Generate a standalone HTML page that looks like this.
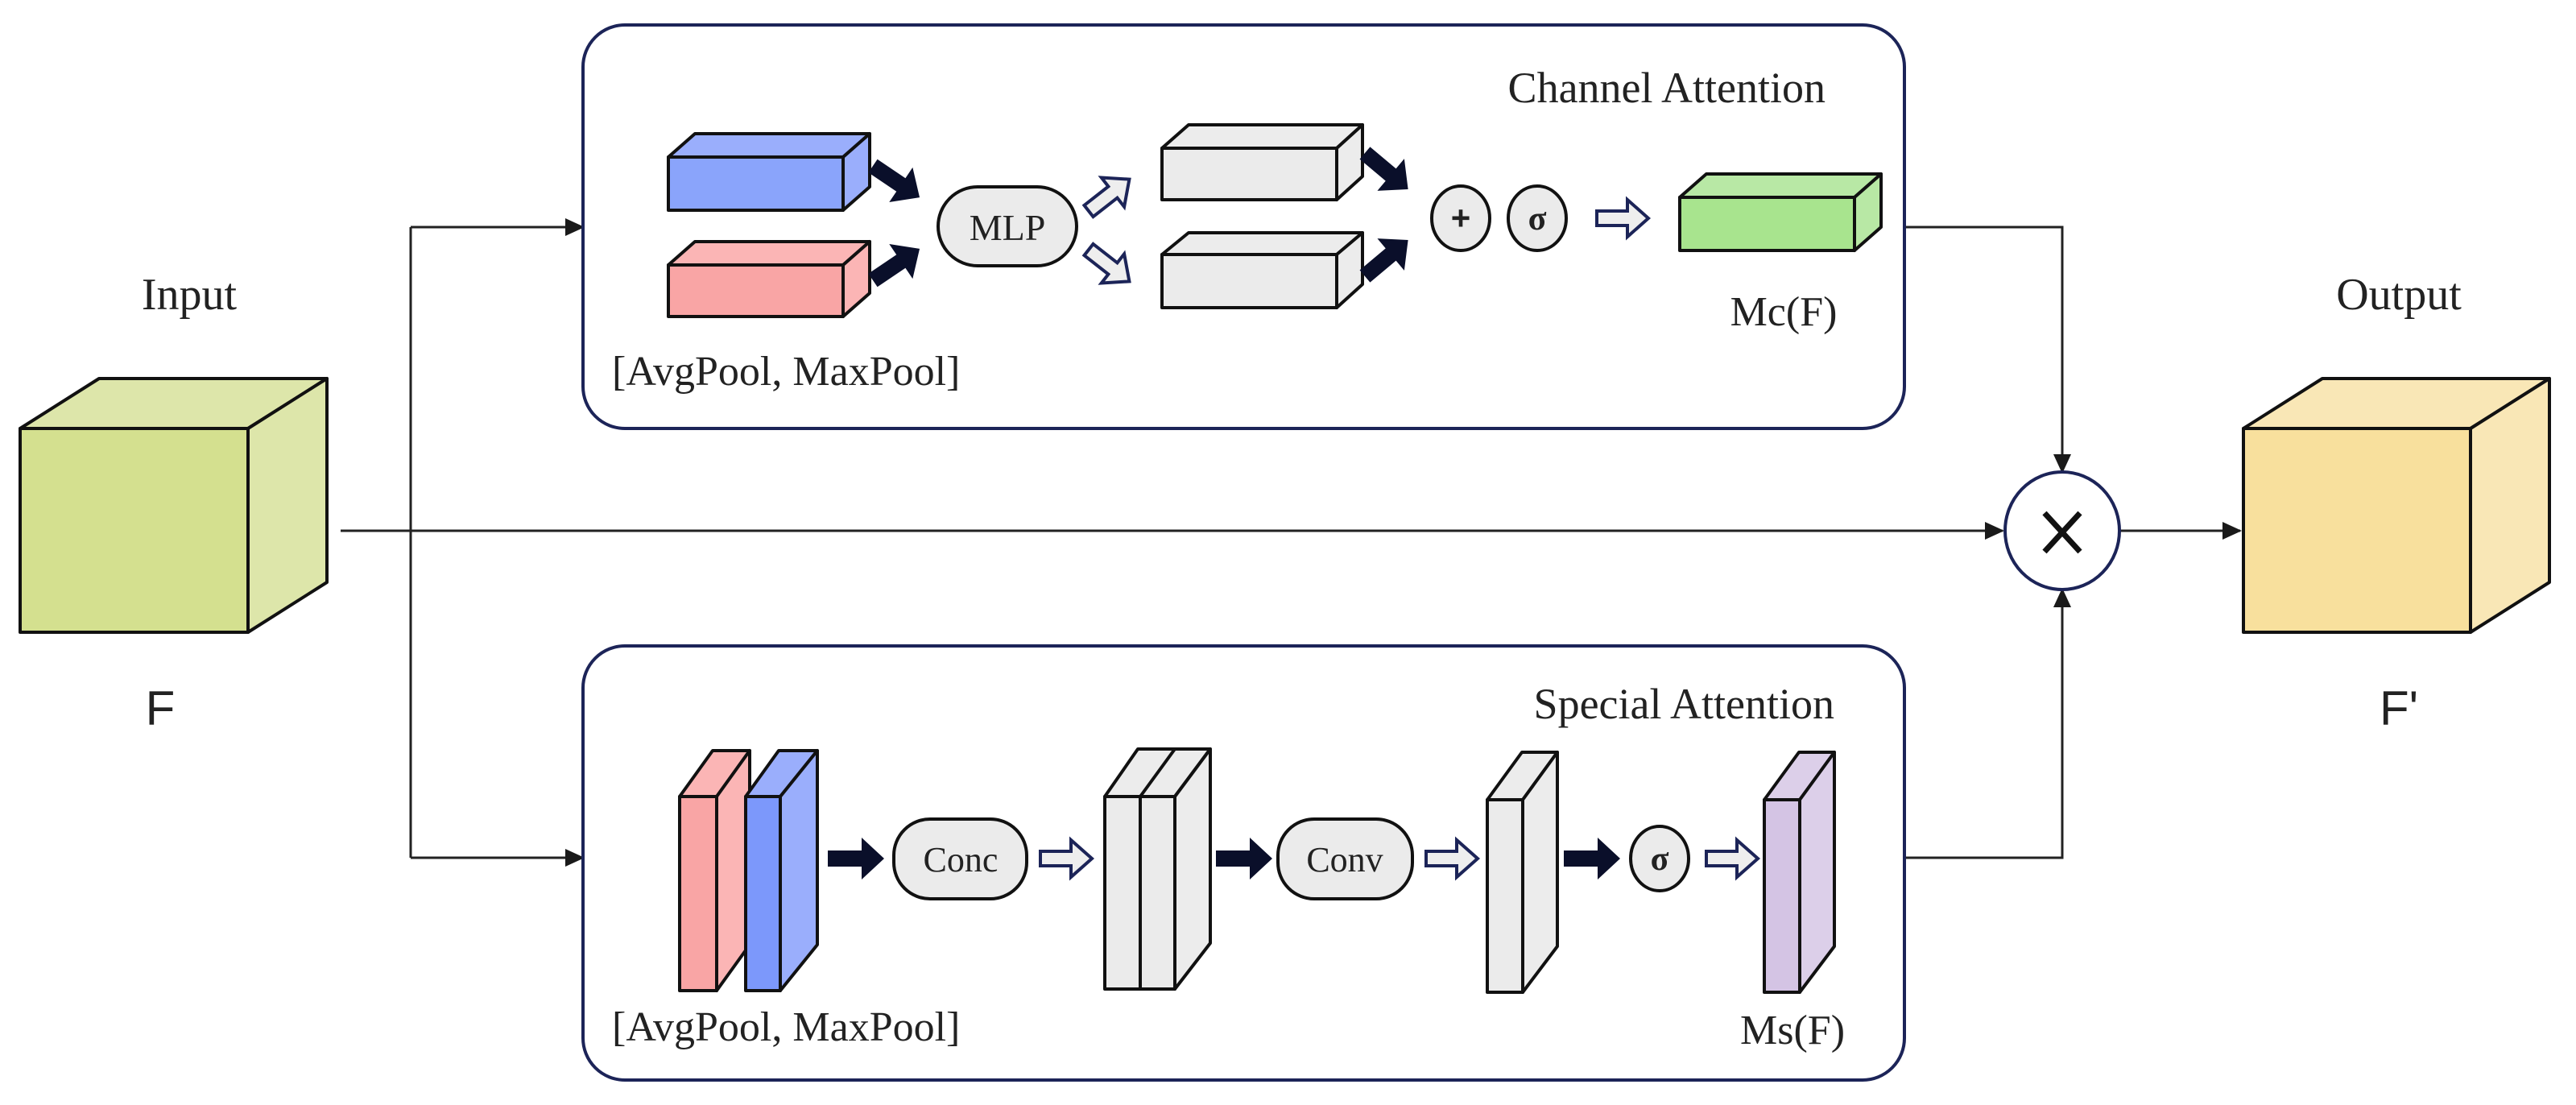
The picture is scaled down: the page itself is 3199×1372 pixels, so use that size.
<!DOCTYPE html>
<html><head><meta charset="utf-8"><style>html,body{margin:0;padding:0;background:#fff}svg{display:block}</style></head><body>
<svg width="3199" height="1372" viewBox="0 0 3199 1372" xmlns="http://www.w3.org/2000/svg">
<defs>
<marker id="ah" markerWidth="24" markerHeight="22" refX="22" refY="11" orient="auto" markerUnits="userSpaceOnUse" viewBox="0 0 24 22">
<path d="M0,0 L24,11 L0,22 z" fill="#1a1a1a"/></marker>
<g id="blk"><polygon points="0,-10 42,-10 42,-26 70,0 42,26 42,10 0,10" fill="#0a0f2a"/></g>
<g id="hol"><polygon points="0,-9 38,-9 38,-23 64,0 38,23 38,9 0,9" fill="#eeeeee" stroke="#1c2458" stroke-width="4" stroke-linejoin="miter"/></g>
</defs>
<g font-family="Liberation Serif, serif" fill="#222">
<g stroke="#222" stroke-width="3" fill="none">
<line x1="423" y1="659" x2="2487" y2="659" marker-end="url(#ah)"/>
<polyline points="510,282 510,1065"/>
<line x1="510" y1="282" x2="724" y2="282" marker-end="url(#ah)"/>
<line x1="510" y1="1065" x2="724" y2="1065" marker-end="url(#ah)"/>
<polyline points="2365,282 2561,282 2561,586" marker-end="url(#ah)"/>
<polyline points="2365,1065 2561,1065 2561,732" marker-end="url(#ah)"/>
<line x1="2633" y1="659" x2="2782" y2="659" marker-end="url(#ah)"/>
</g>
<rect x="724" y="31" width="1641" height="501" rx="52" fill="none" stroke="#1c2458" stroke-width="4"/>
<rect x="724" y="802" width="1641" height="539" rx="52" fill="none" stroke="#1c2458" stroke-width="4"/>
<ellipse cx="2561" cy="659" rx="71" ry="73" fill="#fff" stroke="#1c2458" stroke-width="4"/>
<g stroke="#111" stroke-width="7"><line x1="2539" y1="637" x2="2583" y2="685"/><line x1="2583" y1="637" x2="2539" y2="685"/></g>
<g stroke="#111" stroke-width="4" stroke-linejoin="round">
<polygon points="25,532 123,470 406,470 308,532" fill="#dde6aa"/>
<polygon points="308,532 406,470 406,723 308,785" fill="#dde6aa"/>
<rect x="25" y="532" width="283" height="253" fill="#d4e08f"/>
<polygon points="2786,532 2884,470 3166,470 3068,532" fill="#f9e7b6"/>
<polygon points="3068,532 3166,470 3166,723 3068,785" fill="#f9e7b6"/>
<rect x="2786" y="532" width="282" height="253" fill="#f8e09d"/>
</g>
<text x="235" y="384" font-size="56" text-anchor="middle">Input</text>
<text x="2979" y="384" font-size="56" text-anchor="middle">Output</text>
<text x="199" y="900" font-size="60" text-anchor="middle" font-family="Liberation Sans, sans-serif">F</text>
<text x="2979" y="900" font-size="60" text-anchor="middle" font-family="Liberation Sans, sans-serif">F'</text>
<g stroke="#111" stroke-width="4" stroke-linejoin="round">
<polygon points="830,195 863,166 1080,166 1047,195" fill="#9aaefc"/><polygon points="1047,195 1080,166 1080,232 1047,261" fill="#9aaefc"/><rect x="830" y="195" width="217" height="66" fill="#8aa4fb"/>
<polygon points="830,329 863,300 1080,300 1047,329" fill="#fbb5b5"/><polygon points="1047,329 1080,300 1080,364 1047,393" fill="#fbb5b5"/><rect x="830" y="329" width="217" height="64" fill="#f9a5a5"/>
<polygon points="1443,184 1476,155 1692,155 1660,184" fill="#ececec"/><polygon points="1660,184 1692,155 1692,219 1660,248" fill="#ececec"/><rect x="1443" y="184" width="217" height="64" fill="#ebebeb"/>
<polygon points="1443,316 1476,289 1692,289 1660,316" fill="#ececec"/><polygon points="1660,316 1692,289 1692,353 1660,382" fill="#ececec"/><rect x="1443" y="316" width="217" height="66" fill="#ebebeb"/>
<polygon points="2086,245 2119,216 2336,216 2303,245" fill="#b8e8a5"/><polygon points="2303,245 2336,216 2336,282 2303,311" fill="#b8e8a5"/><rect x="2086" y="245" width="217" height="66" fill="#a8e48e"/>
<rect x="1165" y="232" width="172" height="98" rx="49" fill="#ebebeb"/>
<ellipse cx="1814" cy="271" rx="36" ry="40" fill="#ebebeb"/>
<ellipse cx="1909" cy="271" rx="36" ry="40" fill="#ebebeb"/>
</g>
<text x="1251" y="298" font-size="46" text-anchor="middle">MLP</text>
<text x="1814" y="285" font-size="42" text-anchor="middle" font-family="Liberation Sans, sans-serif" font-weight="bold">+</text>
<text x="1909" y="285" font-size="42" text-anchor="middle" font-weight="bold">σ</text>
<use href="#blk" transform="translate(1084,206) rotate(34)"/>
<use href="#blk" transform="translate(1084,348) rotate(-34)"/>
<use href="#hol" transform="translate(1352,262) rotate(-38)"/>
<use href="#hol" transform="translate(1352,310) rotate(38)"/>
<use href="#blk" transform="translate(1695,190) rotate(40)"/>
<use href="#blk" transform="translate(1695,343) rotate(-40)"/>
<use href="#hol" transform="translate(1983,271)"/>
<text x="2267" y="127" font-size="54" text-anchor="end">Channel Attention</text>
<text x="2215" y="404" font-size="52" text-anchor="middle">Mc(F)</text>
<text x="760" y="478" font-size="52">[AvgPool, MaxPool]</text>
<g stroke="#111" stroke-width="4" stroke-linejoin="round">
<polygon points="844,989 885,932 931,932 890,989" fill="#fbb5b5"/><polygon points="890,989 931,932 931,1173 890,1230" fill="#fbb5b5"/><rect x="844" y="989" width="46" height="241" fill="#f9a5a5"/>
<polygon points="926,989 967,932 1015,932 969,989" fill="#9aaefc"/><polygon points="969,989 1015,932 1015,1173 969,1230" fill="#9aaefc"/><rect x="926" y="989" width="43" height="241" fill="#7c98fb"/>
<polygon points="1372,989 1413,930 1503,930 1459,989" fill="#ececec"/><polygon points="1459,989 1503,930 1503,1171 1459,1228" fill="#ececec"/><rect x="1372" y="989" width="87" height="239" fill="#ebebeb"/><line x1="1416" y1="989" x2="1416" y2="1228"/><line x1="1416" y1="989" x2="1459" y2="930"/>
<polygon points="1847,993 1890,934 1934,934 1891,993" fill="#ececec"/><polygon points="1891,993 1934,934 1934,1175 1891,1232" fill="#ececec"/><rect x="1847" y="993" width="44" height="239" fill="#ebebeb"/>
<polygon points="2191,993 2234,934 2278,934 2235,993" fill="#dccfe9"/><polygon points="2235,993 2278,934 2278,1175 2235,1232" fill="#dccfe9"/><rect x="2191" y="993" width="44" height="239" fill="#d4c4e4"/>
<rect x="1110" y="1017" width="165" height="99" rx="45" fill="#ebebeb"/>
<rect x="1587" y="1017" width="167" height="99" rx="45" fill="#ebebeb"/>
<ellipse cx="2061" cy="1066" rx="36" ry="40" fill="#ebebeb"/>
</g>
<text x="1193" y="1082" font-size="44" text-anchor="middle">Conc</text>
<text x="1670" y="1082" font-size="44" text-anchor="middle">Conv</text>
<text x="2061" y="1080" font-size="42" text-anchor="middle" font-weight="bold">σ</text>
<use href="#blk" transform="translate(1028,1066)"/>
<use href="#hol" transform="translate(1292,1066)"/>
<use href="#blk" transform="translate(1510,1066)"/>
<use href="#hol" transform="translate(1771,1066)"/>
<use href="#blk" transform="translate(1942,1066)"/>
<use href="#hol" transform="translate(2119,1066)"/>
<text x="2278" y="892" font-size="54" text-anchor="end">Special Attention</text>
<text x="2226" y="1296" font-size="52" text-anchor="middle">Ms(F)</text>
<text x="760" y="1292" font-size="52">[AvgPool, MaxPool]</text>
</g>
</svg>
</body></html>
